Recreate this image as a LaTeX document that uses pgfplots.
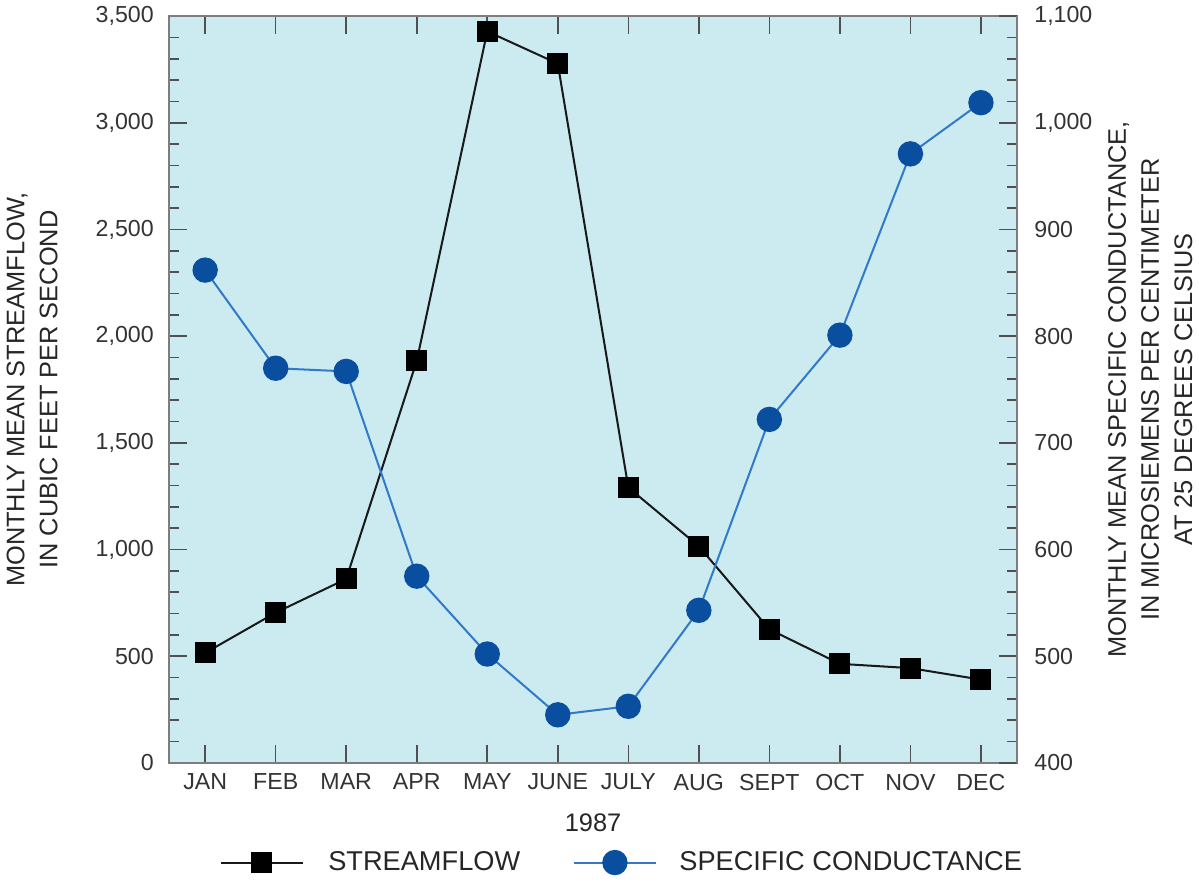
\documentclass[border=0pt]{standalone}
\usepackage{fontspec}
\setmainfont{Liberation Sans}
\usepackage{pgfplots}
\pgfplotsset{compat=1.18}
\definecolor{bgblue}{RGB}{203,235,241}
\definecolor{mblue}{RGB}{10,78,160}
\definecolor{lblue}{RGB}{50,122,200}
\definecolor{framegray}{RGB}{125,125,125}
\definecolor{tickgray}{RGB}{80,80,80}
\begin{document}
\begin{tikzpicture}
\pgfplotsset{
 common/.style={
  width=421pt, height=370.5pt, scale only axis,
  xmin=-0.514, xmax=11.514,
  xtick={0,...,11},
  xticklabels={JAN,FEB,MAR,APR,MAY,JUNE,JULY,AUG,SEPT,OCT,NOV,DEC},
  tick align=inside,
  major tick length=9pt, minor tick length=5pt,
  every tick/.style={draw=tickgray, line width=0.8pt},
  axis line style={draw=framegray, line width=1pt},
  tick label style={font=\fontsize{11.5}{13}\selectfont, text=black!80},
  label style={font=\fontsize{12.6}{16.4}\selectfont, text=black!85},
  /pgf/number format/assume math mode=true,
  /pgf/number format/1000 sep={,},
  clip=false,
 }
}
\begin{axis}[common,
  axis background/.style={fill=bgblue},
  ymin=0, ymax=3500, ytick={0,500,...,3500}, minor y tick num=4,
  xtick pos=both, ytick pos=left,
  yticklabel style={xshift=-4pt},
  xticklabel style={yshift=-2pt},
  ylabel={MONTHLY MEAN STREAMFLOW,\\IN CUBIC FEET PER SECOND},
  ylabel style={align=center},
  ylabel shift=12pt,
  xlabel={1987},
  xlabel shift=5pt,
]
\addplot[black!90, line width=1pt, mark=square*, mark size=4.7pt,
  mark options={fill=black, draw=black}] coordinates {
(0,515) (1,704) (2,862) (3,1884) (4,3429) (5,3278)
(6,1291) (7,1015) (8,626) (9,464) (10,444) (11,390)
};
\end{axis}
\begin{axis}[common,
  axis x line=none, axis y line*=right,
  ymin=400, ymax=1100, ytick={400,500,...,1100}, minor y tick num=4,
  yticklabel style={xshift=5pt},
  ylabel={MONTHLY MEAN SPECIFIC CONDUCTANCE,\\IN MICROSIEMENS PER CENTIMETER\\AT 25 DEGREES CELSIUS},
  ylabel style={align=center},
  ylabel shift=1pt,
  legend style={at={(0.535,-0.1336)}, anchor=center, legend columns=2,
    draw=none, fill=none, font=\fontsize{13.5}{15}\selectfont, text=black!85,
    /tikz/every even column/.append style={column sep=24pt}},
  legend cell align=left,
  legend image code/.code={\draw[mark repeat=2,mark phase=2,#1] plot coordinates {(0pt,0pt) (20.5pt,0pt) (41pt,0pt)};},
]
\addlegendimage{black!90, line width=1pt, mark=square*, mark size=4.7pt, mark options={fill=black, draw=black}}
\addlegendentry{\hspace{10pt}STREAMFLOW}
\addplot[lblue, line width=1pt, mark=*, mark size=5.8pt,
  mark options={fill=mblue, draw=mblue}] coordinates {
(0,862) (1,770) (2,767) (3,575) (4,502) (5,445)
(6,453) (7,543) (8,722) (9,801) (10,971) (11,1019)
};
\addlegendentry{\hspace{9pt}SPECIFIC CONDUCTANCE}
\end{axis}
\end{tikzpicture}
\end{document}
